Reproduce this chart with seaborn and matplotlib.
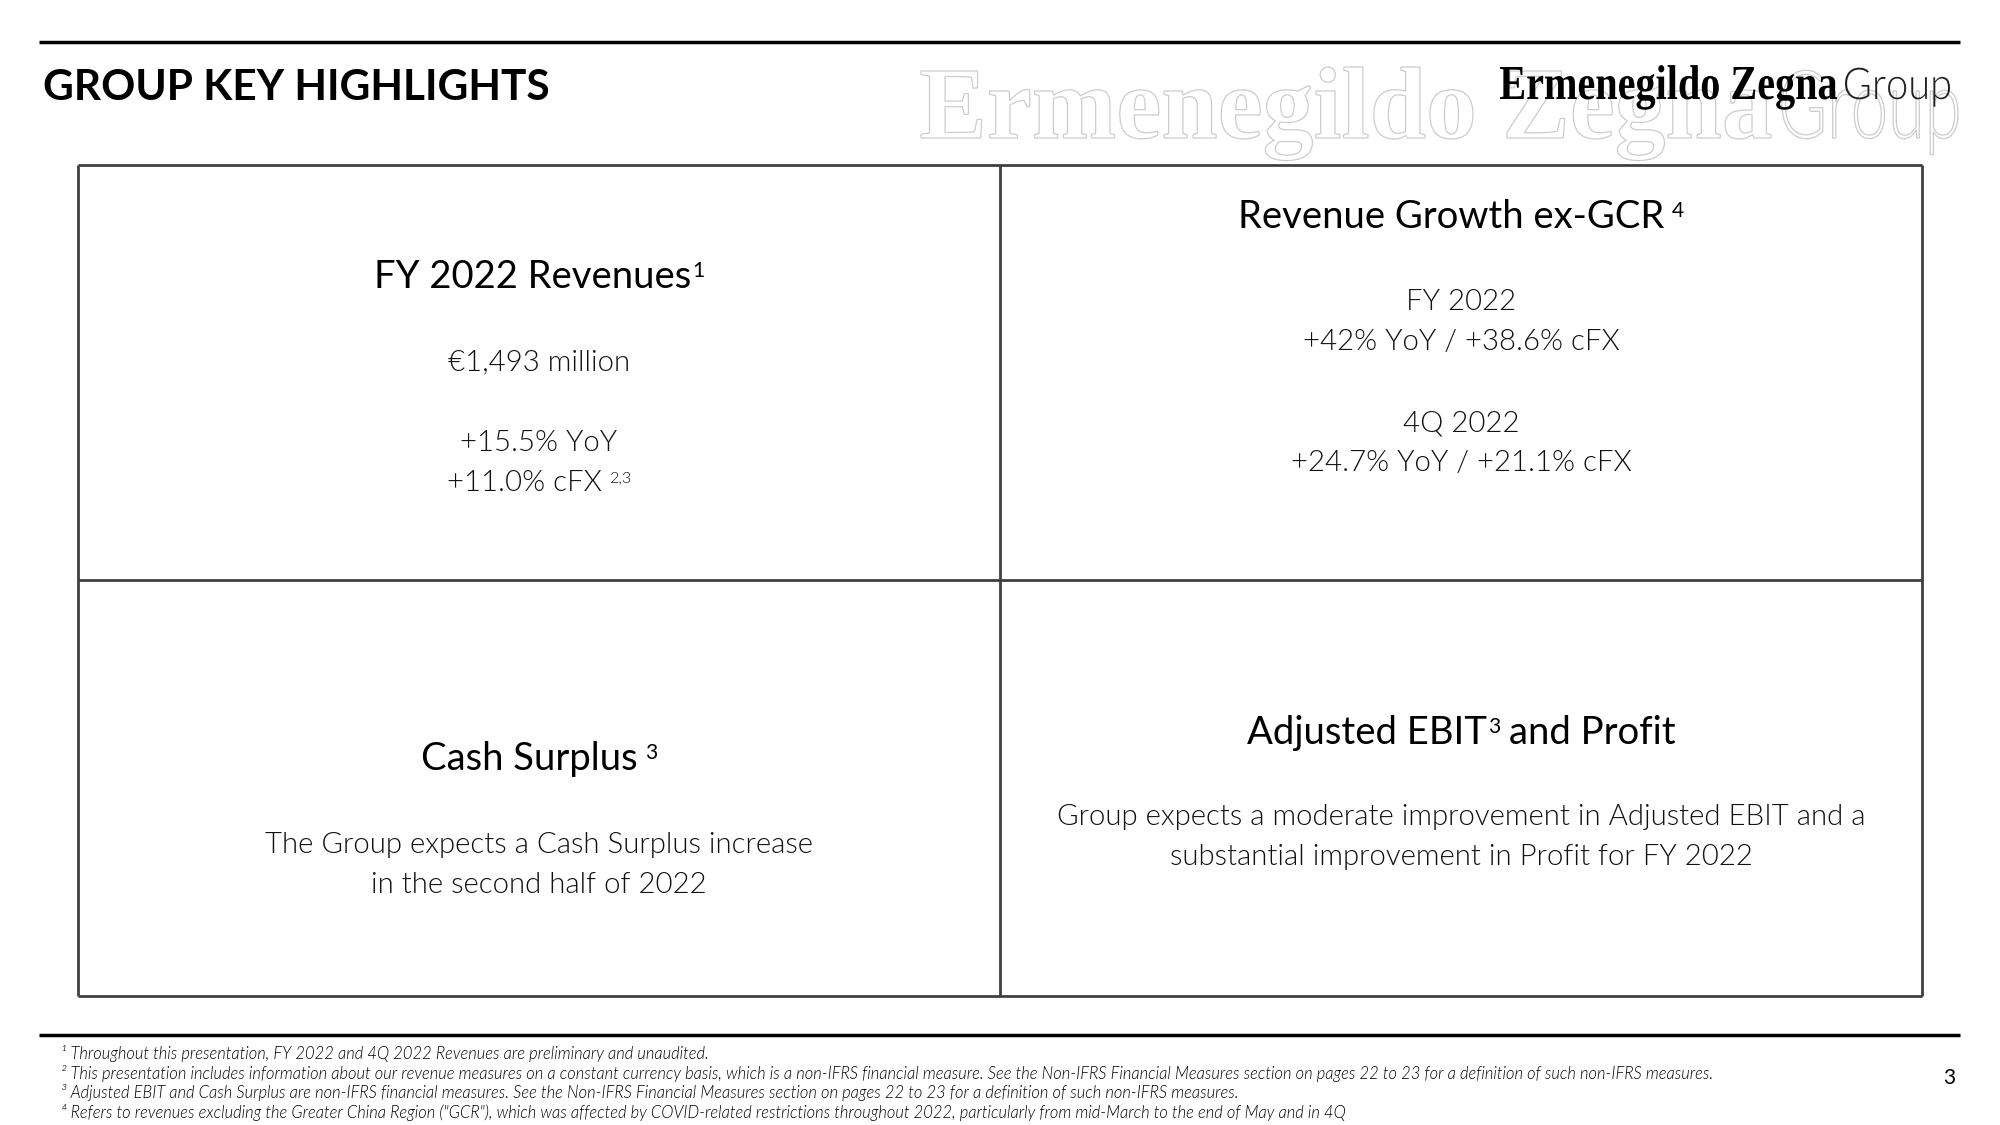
import matplotlib
matplotlib.use("Agg")
import matplotlib.pyplot as plt
from matplotlib.textpath import TextPath
from matplotlib.font_manager import FontProperties
from matplotlib.patches import PathPatch
from matplotlib.transforms import Affine2D
import seaborn as sns

# ---- slide content ----
title = "GROUP KEY HIGHLIGHTS"
logo_brand = "Ermenegildo Zegna"
logo_suffix = "Group"
page_number = "3"

# headings: (text, superscript, space before superscript, text after superscript)
head_revenues = ("FY 2022 Revenues", "1", False, "")
head_growth = ("Revenue Growth ex-GCR", "4", True, "")
head_cash = ("Cash Surplus", "3", True, "")
head_ebit = ("Adjusted EBIT", "3", False, "and Profit")

revenues_lines = ["€1,493 million", "+15.5% YoY", "+11.0% cFX"]
revenues_sup = "2,3"
growth_lines = ["FY 2022", "+42% YoY / +38.6% cFX", "4Q 2022", "+24.7% YoY / +21.1% cFX"]
cash_lines = ["The Group expects a Cash Surplus increase", "in the second half of 2022"]
ebit_lines = ["Group expects a moderate improvement in Adjusted EBIT and a",
              "substantial improvement in Profit for FY 2022"]

footnotes = [
    "¹ Throughout this presentation, FY 2022 and 4Q 2022 Revenues are preliminary and unaudited.",
    "² This presentation includes information about our revenue measures on a constant currency basis, "
    "which is a non-IFRS financial measure. See the Non-IFRS Financial Measures section on pages 22 to 23 "
    "for a definition of such non-IFRS measures.",
    "³ Adjusted EBIT and Cash Surplus are non-IFRS financial measures. See the Non-IFRS Financial Measures "
    "section on pages 22 to 23 for a definition of such non-IFRS measures.",
    "⁴ Refers to revenues excluding the Greater China Region (\"GCR\"), which was affected by COVID-related "
    "restrictions throughout 2022, particularly from mid-March to the end of May and in 4Q",
]

# ---- canvas ----
W, H = 2000, 1125
sns.set_theme(style="white")
plt.rcParams["font.family"] = ["Lato", "DejaVu Sans"]

fig = plt.figure(figsize=(20, 11.25), dpi=100)
ax = fig.add_axes([0, 0, 1, 1])
ax.set_xlim(0, W)
ax.set_ylim(H, 0)
ax.axis("off")
fig.canvas.draw()
rend = fig.canvas.get_renderer()

LIGHT = 300


def width(t):
    return t.get_window_extent(renderer=rend).width


def fitted_size(s, target, **kw):
    t = ax.text(0, 0, s, fontsize=20, **kw)
    w = width(t)
    t.remove()
    return 20 * target / w


def centered(cx, y, parts, size, **kw):
    # parts: (text, is_superscript, gap before in px)
    items = []
    for s, sup, gap in parts:
        fs = size * 0.55 if sup else size
        dy = size * 100 / 72 * 0.30 if sup else 0
        t = ax.text(0, y - dy, s, fontsize=fs, ha="left", va="baseline", **kw)
        items.append((t, gap))
    total = sum(width(t) + g for t, g in items)
    x = cx - total / 2
    for t, g in items:
        x += g
        t.set_x(x)
        x += width(t)


def path_text(s, x, y, w_target, cap_target, prop, **patch_kw):
    # text drawn as a path so it can be condensed like the wordmark
    tp = TextPath((0, 0), s, size=100, prop=prop)
    ext = tp.get_extents()
    cap = TextPath((0, 0), "H", size=100, prop=prop).get_extents().height
    tr = Affine2D().translate(-ext.x0, 0).scale(w_target / ext.width, -cap_target / cap).translate(x, y)
    ax.add_patch(PathPatch(tr.transform_path(tp), **patch_kw))


# ---- header ----
ax.hlines(41.5, 39, 1960, color="black", lw=2.5)
ax.hlines(1035, 39, 1960, color="black", lw=2.5)

ts = fitted_size(title, 507, weight="bold")
ax.text(43, 100, title, fontsize=ts, weight="bold", color="black", va="baseline")

serif = FontProperties(family="Liberation Serif", weight="bold")
sans_light = FontProperties(family="Lato", weight=LIGHT)

# faded oversized wordmark behind
ghost_kw = dict(facecolor="white", edgecolor="#cccccc", lw=0.9, zorder=1)
path_text(logo_brand, 921, 138, 850, 67, serif, **ghost_kw)
path_text(logo_suffix, 1782, 138, 176, 67, sans_light, **ghost_kw)

# wordmark
path_text(logo_brand, 1500, 99, 337, 32, serif, facecolor="black", lw=0, zorder=3)
path_text(logo_suffix, 1845, 99, 105, 31, sans_light, facecolor="#222222", lw=0, zorder=3)

# ---- 2x2 grid ----
box_kw = dict(color="#404040", lw=2, zorder=2)
ax.hlines([165, 580, 996], 78, 1922, **box_kw)
ax.vlines([78, 1000, 1922], 165, 996, **box_kw)

left_cx, right_cx = 539, 1461
hs = fitted_size(head_growth[0], 427)
bs = (fitted_size(growth_lines[1], 306, weight=LIGHT) + fitted_size(cash_lines[0], 569, weight=LIGHT)) / 2
space = bs * 100 / 72 * 0.25
body_kw = dict(weight=LIGHT, color="#111111")
head_kw = dict(color="black")


def heading(cx, y, h):
    main, sup, spaced, after = h
    parts = [(main, False, 0), (sup, True, space if spaced else 1)]
    if after:
        parts.append((after, False, space * 1.2))
    centered(cx, y, parts, hs, **head_kw)


heading(left_cx, 288, head_revenues)
centered(left_cx, 370, [(revenues_lines[0], False, 0)], bs, **body_kw)
centered(left_cx, 451, [(revenues_lines[1], False, 0)], bs, **body_kw)
centered(left_cx, 491, [(revenues_lines[2], False, 0), (revenues_sup, True, space)], bs, **body_kw)

heading(right_cx, 228, head_growth)
for s, y in zip(growth_lines, [310, 350, 432, 471]):
    centered(right_cx, y, [(s, False, 0)], bs, **body_kw)

heading(left_cx, 770, head_cash)
for s, y in zip(cash_lines, [853, 893]):
    centered(left_cx, y, [(s, False, 0)], bs, **body_kw)

heading(right_cx, 744, head_ebit)
for s, y in zip(ebit_lines, [825, 865]):
    centered(right_cx, y, [(s, False, 0)], bs, **body_kw)

# ---- footer ----
fs = fitted_size(footnotes[1], 1655, style="italic", weight=LIGHT)
for s, y in zip(footnotes, [1059, 1079, 1098, 1118]):
    ax.text(61, y, s, fontsize=fs, style="italic", weight=LIGHT, color="black", va="baseline")

ax.text(1949, 1084, page_number, fontsize=15, ha="center", va="baseline", color="black")

fig.savefig("out.png", dpi=100)
